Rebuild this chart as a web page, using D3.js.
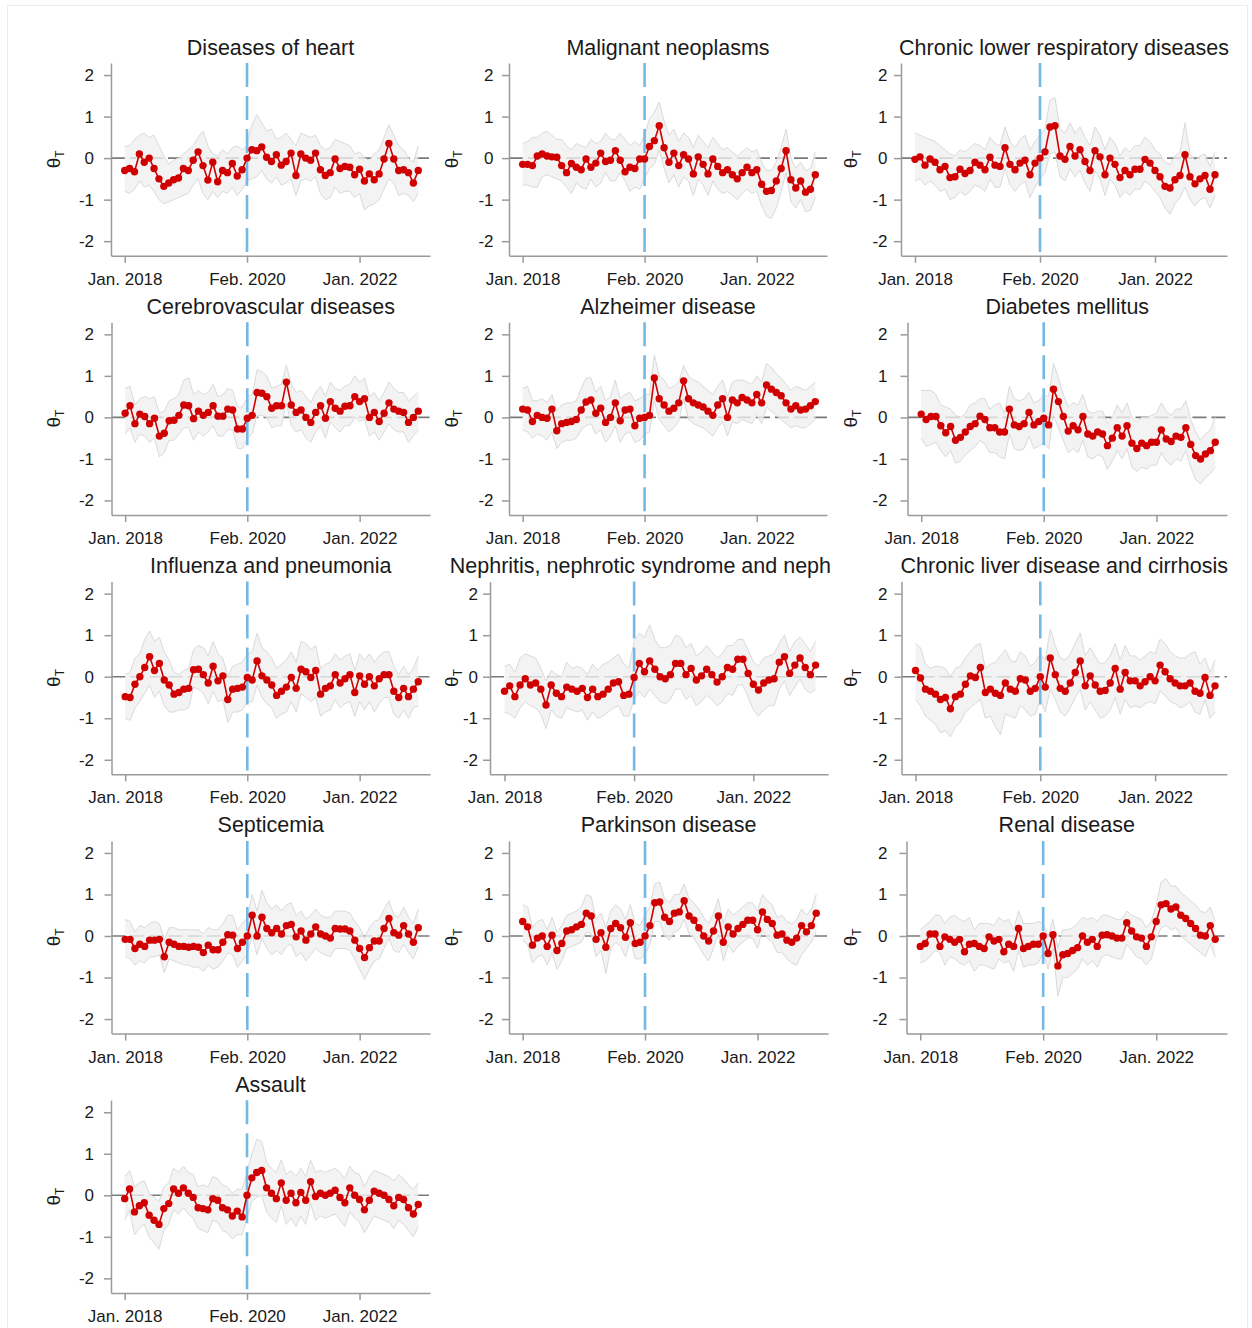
<!DOCTYPE html>
<html>
<head>
<meta charset="utf-8">
<script src="https://cdn.jsdelivr.net/npm/d3@7"></script>
<style>
  body { margin: 0; background: #fff; }
  svg  { display: block; font-family: "Liberation Sans", Arial, sans-serif; }
</style>
</head>
<body>
<div id="chart"></div>
<script>
/* ---- data: monthly theta_T estimates, Jan 2018 .. Jan 2023 (61 months) ---- */
const xTickMonths = [0, 25, 48];
const xTickLabels = ["Jan. 2018", "Feb. 2020", "Jan. 2022"];
const yTicks      = [-2, -1, 0, 1, 2];
const breakMonth  = 25;   // Feb. 2020

const titles = [
  "Diseases of heart", "Malignant neoplasms", "Chronic lower respiratory diseases",
  "Cerebrovascular diseases", "Alzheimer disease", "Diabetes mellitus",
  "Influenza and pneumonia", "Nephritis, nephrotic syndrome and neph", "Chronic liver disease and cirrhosis",
  "Septicemia", "Parkinson disease", "Renal disease",
  "Assault"
];

const heartPt = [-0.30,-0.25,-0.33,0.10,-0.10,0.00,-0.25,-0.50,-0.68,-0.60,
  -0.52,-0.48,-0.25,-0.30,-0.05,0.15,-0.18,-0.53,-0.10,-0.57,
  -0.30,-0.35,-0.13,-0.43,-0.28,0.00,0.20,0.18,0.27,0.02,
  -0.08,0.08,-0.17,-0.08,0.12,-0.42,0.10,0.00,-0.05,0.12,
  -0.28,-0.42,-0.35,-0.02,-0.25,-0.20,-0.22,-0.40,-0.27,-0.55,
  -0.38,-0.52,-0.38,-0.02,0.35,-0.02,-0.30,-0.28,-0.35,-0.60,-0.30];
const heartHi = [0.28,0.30,0.45,0.55,0.60,0.50,0.55,0.30,0.05,-0.15,
  -0.05,0.00,0.10,0.20,0.30,0.50,0.65,0.30,0.10,0.05,
  0.20,0.10,0.25,0.30,0.20,0.30,0.80,1.05,0.85,0.65,
  0.70,0.45,0.50,0.60,0.45,0.30,0.60,0.55,0.50,0.55,
  0.30,0.20,0.25,0.45,0.40,0.35,0.30,0.10,0.15,0.00,
  -0.05,0.10,0.20,0.50,0.80,0.55,0.30,0.20,0.00,-0.10,0.30];
const heartLo = [-0.80,-0.85,-0.75,-0.55,-0.70,-0.65,-0.80,-1.00,-1.10,-1.05,
  -1.00,-0.95,-0.90,-0.85,-0.65,-0.50,-0.85,-1.00,-0.80,-0.95,
  -0.80,-0.85,-0.70,-0.90,-0.75,-0.55,-0.50,-0.45,-0.30,-0.50,
  -0.60,-0.45,-0.65,-0.60,-0.50,-0.90,-0.55,-0.50,-0.55,-0.45,
  -0.85,-1.00,-0.95,-0.70,-0.85,-0.80,-0.80,-0.95,-0.85,-1.25,
  -1.15,-1.10,-1.00,-0.75,-0.50,-0.60,-0.90,-0.85,-0.90,-1.05,-0.85];

const malignantPt = [-0.15,-0.15,-0.18,0.05,0.10,0.05,0.03,0.02,-0.18,-0.35,
  -0.13,-0.22,-0.28,-0.02,-0.22,-0.12,0.12,-0.08,-0.05,0.18,
  -0.05,-0.33,-0.22,-0.25,-0.02,-0.02,0.28,0.42,0.78,0.25,
  -0.10,0.12,-0.18,0.08,-0.02,-0.38,0.03,-0.15,-0.38,-0.02,
  -0.20,-0.35,-0.28,-0.40,-0.50,-0.35,-0.22,-0.35,-0.28,-0.63,
  -0.80,-0.78,-0.55,-0.25,0.18,-0.52,-0.72,-0.55,-0.82,-0.75,-0.40];
const malignantHi = [0.35,0.40,0.50,0.50,0.60,0.65,0.55,0.45,0.45,0.30,
  0.20,0.35,0.30,0.25,0.45,0.35,0.40,0.60,0.45,0.45,
  0.60,0.45,0.30,0.40,0.30,0.55,0.95,1.10,1.35,0.90,
  0.55,0.70,0.40,0.60,0.50,0.25,0.55,0.40,0.25,0.50,
  0.35,0.20,0.25,0.15,0.05,0.15,0.25,0.15,0.20,-0.10,
  -0.30,-0.30,-0.10,0.25,0.70,0.00,-0.25,-0.10,-0.30,-0.25,0.15];
const malignantLo = [-0.65,-0.65,-0.70,-0.70,-0.45,-0.40,-0.45,-0.50,-0.55,-0.70,
  -0.85,-0.60,-0.70,-0.75,-0.50,-0.70,-0.60,-0.35,-0.55,-0.55,
  -0.35,-0.55,-0.80,-0.70,-0.75,-0.50,-0.25,-0.15,0.20,-0.25,
  -0.60,-0.40,-0.70,-0.45,-0.55,-0.90,-0.50,-0.65,-0.90,-0.55,
  -0.75,-0.85,-0.80,-0.90,-1.00,-0.85,-0.75,-0.85,-0.80,-1.15,
  -1.40,-1.45,-1.20,-0.80,-0.35,-1.05,-1.20,-1.00,-1.30,-1.25,-0.95];

const respPt = [-0.03,0.03,-0.17,-0.02,-0.10,-0.28,-0.20,-0.47,-0.45,-0.27,
  -0.37,-0.30,-0.10,-0.17,-0.28,0.02,-0.17,-0.20,0.25,-0.15,
  -0.28,-0.12,-0.05,-0.40,-0.12,0.00,0.15,0.75,0.78,0.05,
  -0.03,0.28,0.05,0.20,-0.08,-0.30,0.18,0.03,-0.40,0.00,
  -0.15,-0.47,-0.30,-0.40,-0.27,-0.27,-0.03,-0.12,-0.30,-0.45,
  -0.68,-0.72,-0.52,-0.42,0.08,-0.45,-0.62,-0.50,-0.42,-0.75,-0.40];
const respHi = [0.60,0.55,0.50,0.45,0.40,0.30,0.20,0.10,0.05,0.20,
  0.15,0.25,0.35,0.30,0.20,0.50,0.35,0.30,0.75,0.40,
  0.25,0.45,0.55,0.20,0.40,0.55,0.70,1.40,1.45,0.70,
  0.60,0.85,0.60,0.75,0.50,0.30,0.75,0.55,0.20,0.50,
  0.35,0.05,0.25,0.15,0.30,0.30,0.50,0.40,0.20,0.10,
  -0.10,-0.15,0.05,0.15,0.85,0.10,-0.05,0.05,0.10,-0.20,0.15];
const respLo = [-0.55,-0.50,-0.65,-0.55,-0.65,-0.80,-0.75,-1.00,-0.95,-0.80,
  -0.90,-0.80,-0.65,-0.70,-0.80,-0.50,-0.70,-0.70,-0.25,-0.65,
  -0.80,-0.65,-0.55,-0.95,-0.70,-0.50,-0.35,0.10,0.15,-0.45,
  -0.55,-0.25,-0.45,-0.30,-0.60,-0.80,-0.30,-0.50,-0.90,-0.50,
  -0.65,-0.95,-0.80,-0.90,-0.75,-0.75,-0.55,-0.65,-0.80,-0.95,
  -1.20,-1.35,-1.10,-0.95,-0.70,-1.00,-1.15,-1.00,-0.95,-1.20,-0.90];

const cerebroPt = [0.10,0.28,-0.15,0.08,0.02,-0.15,-0.02,-0.45,-0.38,-0.08,
  -0.07,0.05,0.30,0.28,-0.03,0.15,0.05,0.12,0.28,0.03,
  0.03,0.20,0.18,-0.28,-0.28,-0.02,0.05,0.60,0.58,0.50,
  0.22,0.28,0.28,0.85,0.30,0.12,0.18,0.00,-0.12,0.12,
  0.28,-0.02,0.38,0.22,0.15,0.27,0.28,0.50,0.38,0.45,
  0.00,0.12,-0.10,0.10,0.35,0.20,0.15,0.12,-0.12,0.00,0.15];
const cerebroHi = [0.70,0.75,0.30,0.45,0.50,0.45,0.50,0.10,0.15,0.40,
  0.45,0.55,0.90,0.95,0.55,0.65,0.55,0.60,0.80,0.50,
  0.55,0.70,0.65,0.25,0.25,0.50,0.55,1.15,1.10,1.00,
  0.70,0.75,0.80,1.25,0.80,0.60,0.65,0.50,0.35,0.60,
  0.75,0.50,0.85,0.70,0.65,0.75,0.80,1.00,0.85,0.95,
  0.50,0.60,0.40,0.60,0.85,0.70,0.60,0.60,0.40,0.50,0.60];
const cerebroLo = [-0.40,-0.25,-0.60,-0.40,-0.45,-0.60,-0.50,-0.95,-0.85,-0.55,
  -0.55,-0.40,-0.25,-0.25,-0.55,-0.35,-0.45,-0.35,-0.20,-0.45,
  -0.45,-0.30,-0.30,-0.75,-0.75,-0.50,-0.40,0.05,0.05,0.00,
  -0.25,-0.20,-0.20,0.35,-0.20,-0.35,-0.30,-0.50,-0.60,-0.35,
  -0.20,-0.50,-0.10,-0.25,-0.35,-0.20,-0.20,0.00,-0.10,-0.05,
  -0.45,-0.35,-0.55,-0.35,-0.15,-0.30,-0.35,-0.35,-0.60,-0.45,-0.30];

const alzPt = [0.20,0.18,-0.10,0.05,0.00,-0.02,0.20,-0.32,-0.15,-0.12,
  -0.10,-0.05,0.18,0.37,0.42,0.10,0.22,-0.12,0.00,0.35,
  -0.08,0.18,0.20,-0.20,-0.02,0.00,0.05,0.95,0.45,0.30,
  0.15,0.22,0.35,0.88,0.45,0.35,0.30,0.25,0.15,0.05,
  0.30,0.45,0.00,0.42,0.35,0.48,0.42,0.35,0.55,0.35,
  0.78,0.68,0.60,0.52,0.35,0.20,0.28,0.18,0.20,0.28,0.38];
const alzHi = [0.70,0.75,0.40,0.40,0.45,0.35,0.55,0.15,0.30,0.35,
  0.35,0.40,0.70,0.95,0.95,0.60,0.75,0.40,0.50,0.90,
  0.45,0.55,0.60,0.40,0.45,0.55,0.55,1.50,1.00,0.90,
  0.70,0.75,0.85,1.25,1.00,0.90,0.85,0.75,0.65,0.55,
  0.75,0.90,0.50,0.85,0.90,0.90,0.85,0.80,1.00,0.85,
  1.30,1.20,1.05,0.95,0.80,0.65,0.75,0.70,0.65,0.75,0.85];
const alzLo = [-0.30,-0.35,-0.50,-0.40,-0.45,-0.55,-0.35,-0.75,-0.60,-0.55,
  -0.55,-0.50,-0.30,-0.20,-0.15,-0.40,-0.30,-0.60,-0.45,-0.20,
  -0.60,-0.40,-0.35,-0.60,-0.55,-0.40,-0.35,0.40,-0.05,-0.20,
  -0.35,-0.25,-0.10,0.45,-0.05,-0.15,-0.20,-0.25,-0.35,-0.45,
  -0.25,-0.10,-0.45,-0.10,-0.15,-0.05,-0.10,-0.15,0.05,-0.15,
  0.25,0.15,0.05,-0.05,-0.15,-0.25,-0.20,-0.25,-0.25,-0.15,-0.05];

const diabetesPt = [0.08,-0.05,0.02,0.02,-0.20,-0.37,-0.22,-0.55,-0.48,-0.35,
  -0.22,-0.15,0.03,-0.05,-0.25,-0.25,-0.35,-0.35,0.20,-0.18,
  -0.22,-0.15,0.12,-0.18,-0.10,-0.02,-0.18,0.68,0.38,0.02,
  -0.33,-0.20,-0.30,0.02,-0.40,-0.45,-0.35,-0.40,-0.68,-0.50,
  -0.25,-0.45,-0.20,-0.62,-0.75,-0.62,-0.68,-0.60,-0.60,-0.30,
  -0.52,-0.58,-0.45,-0.48,-0.25,-0.65,-0.92,-1.00,-0.88,-0.80,-0.60];
const diabetesHi = [0.65,0.65,0.65,0.55,0.30,0.25,0.20,0.05,0.00,0.10,
  0.30,0.35,0.45,0.45,0.20,0.30,0.35,0.10,0.75,0.45,
  0.40,0.45,0.60,0.35,0.40,0.55,0.50,1.30,0.95,0.55,
  0.25,0.35,0.30,0.55,0.15,0.10,0.15,0.15,-0.15,0.00,
  0.30,0.10,0.35,0.00,-0.10,0.00,0.00,0.05,0.10,0.35,
  0.15,0.05,0.20,0.20,0.40,-0.05,-0.35,-0.55,-0.40,-0.30,0.00];
const diabetesLo = [-0.50,-0.70,-0.65,-0.60,-0.80,-0.95,-0.80,-1.10,-1.05,-0.90,
  -0.80,-0.70,-0.55,-0.65,-0.85,-0.85,-0.95,-1.00,-0.40,-0.75,
  -0.80,-0.75,-0.45,-0.75,-0.70,-0.60,-0.75,0.05,-0.25,-0.55,
  -0.85,-0.75,-0.85,-0.55,-0.95,-1.00,-0.90,-0.95,-1.25,-1.05,
  -0.80,-1.00,-0.75,-1.20,-1.30,-1.20,-1.25,-1.15,-1.15,-0.85,
  -1.05,-1.15,-1.00,-1.05,-0.80,-1.20,-1.50,-1.60,-1.45,-1.35,-1.20];

const fluPt = [-0.48,-0.50,-0.18,0.00,0.22,0.48,0.15,0.32,-0.08,-0.20,
  -0.42,-0.38,-0.30,-0.28,0.17,0.18,0.05,-0.15,0.25,-0.10,
  0.02,-0.55,-0.30,-0.28,-0.25,-0.02,-0.08,0.38,0.02,-0.08,
  -0.20,-0.45,-0.35,-0.25,-0.02,-0.28,0.18,0.12,-0.02,0.15,
  -0.42,-0.28,-0.22,0.05,-0.15,-0.05,0.05,-0.38,0.02,-0.18,
  0.00,-0.22,-0.05,0.05,0.05,-0.35,-0.50,-0.28,-0.48,-0.30,-0.12];
const fluHi = [0.05,0.10,0.45,0.55,0.90,1.10,0.85,0.95,0.60,0.40,
  0.10,0.05,0.15,0.20,0.65,0.75,0.70,0.50,0.85,0.55,
  0.45,0.00,0.25,0.30,0.35,0.55,0.60,1.05,0.70,0.60,
  0.45,0.20,0.30,0.40,0.60,0.35,0.85,0.80,0.65,0.75,
  0.20,0.30,0.35,0.55,0.40,0.50,0.55,0.15,0.55,0.40,
  0.55,0.35,0.50,0.60,0.60,0.25,0.05,0.25,0.05,0.20,0.50];
const fluLo = [-1.00,-1.05,-0.75,-0.60,-0.40,-0.20,-0.50,-0.35,-0.70,-0.85,
  -0.85,-0.80,-0.80,-0.75,-0.25,-0.30,-0.40,-0.65,-0.35,-0.60,
  -0.55,-1.10,-0.85,-0.85,-0.80,-0.60,-0.60,-0.20,-0.50,-0.65,
  -0.75,-1.00,-0.90,-0.85,-0.60,-0.85,-0.40,-0.50,-0.60,-0.50,
  -0.95,-0.85,-0.80,-0.55,-0.75,-0.65,-0.60,-0.95,-0.60,-0.80,
  -0.60,-0.85,-0.65,-0.50,-0.50,-0.90,-1.00,-0.80,-1.00,-0.75,-0.70];

const nephPt = [-0.35,-0.22,-0.48,-0.20,-0.05,-0.20,-0.15,-0.30,-0.68,-0.20,
  -0.40,-0.48,-0.25,-0.30,-0.35,-0.28,-0.50,-0.30,-0.48,-0.42,
  -0.30,-0.15,-0.12,-0.45,-0.42,-0.02,0.32,0.12,0.38,0.18,
  0.00,-0.05,0.05,0.32,0.32,0.05,0.20,-0.08,0.02,0.18,
  0.05,-0.13,0.00,0.22,0.18,0.42,0.42,0.08,-0.18,-0.32,
  -0.15,-0.08,-0.05,0.35,0.48,0.08,0.28,0.45,0.22,0.05,0.28];
const nephHi = [0.25,0.30,0.10,0.45,0.55,0.50,0.45,0.20,-0.10,0.15,
  0.05,0.00,0.35,0.20,0.25,0.20,0.05,0.30,0.15,0.30,
  0.35,0.45,0.55,0.30,0.20,0.85,1.05,0.95,1.25,0.90,
  0.70,0.70,0.75,1.00,0.95,0.70,0.80,0.50,0.60,0.75,
  0.60,0.45,0.55,0.75,0.75,0.90,0.90,0.65,0.35,0.25,
  0.45,0.50,0.55,0.80,1.00,0.60,0.85,0.95,0.80,0.60,0.85];
const nephLo = [-0.85,-0.90,-1.00,-0.75,-0.60,-0.70,-0.75,-0.90,-1.25,-0.80,
  -0.95,-1.00,-0.75,-0.80,-0.85,-0.80,-1.05,-0.85,-1.00,-0.95,
  -0.85,-0.75,-0.70,-0.95,-0.95,-0.55,-0.35,-0.50,-0.30,-0.45,
  -0.60,-0.65,-0.55,-0.30,-0.30,-0.55,-0.45,-0.70,-0.60,-0.45,
  -0.55,-0.70,-0.60,-0.40,-0.45,-0.20,-0.20,-0.50,-0.80,-0.95,
  -0.80,-0.70,-0.70,-0.30,-0.10,-0.45,-0.25,-0.05,-0.30,-0.40,-0.30];

const liverPt = [0.15,-0.03,-0.30,-0.35,-0.42,-0.55,-0.50,-0.77,-0.48,-0.42,
  -0.18,0.02,-0.02,0.22,-0.38,-0.30,-0.40,-0.45,-0.15,-0.30,
  -0.35,-0.05,-0.08,-0.35,-0.28,0.00,-0.25,0.45,0.05,-0.28,
  -0.35,-0.15,0.10,0.38,-0.22,0.02,-0.20,-0.35,-0.33,-0.15,
  0.20,-0.30,0.10,-0.10,-0.10,-0.22,-0.12,0.00,-0.10,0.28,
  0.12,-0.05,-0.15,-0.22,-0.22,-0.15,-0.35,-0.40,-0.02,-0.45,-0.22];
const liverHi = [0.80,0.70,0.30,0.20,0.25,0.25,0.20,0.00,0.20,0.25,
  0.45,0.60,0.75,0.80,0.20,0.30,0.35,0.50,0.65,0.40,
  0.35,0.60,0.50,0.25,0.35,0.55,0.40,1.15,0.75,0.45,
  0.40,0.55,0.80,1.05,0.50,0.70,0.50,0.30,0.35,0.50,
  0.80,0.40,0.75,0.50,0.50,0.40,0.50,0.60,0.55,0.90,
  0.80,0.60,0.50,0.45,0.45,0.55,0.60,0.30,0.45,0.10,0.40];
const liverLo = [-0.55,-0.70,-0.95,-1.05,-1.15,-1.35,-1.30,-1.45,-1.20,-1.10,
  -0.85,-0.75,-0.65,-0.55,-1.00,-0.95,-1.20,-1.40,-0.90,-0.95,
  -1.00,-0.70,-0.80,-0.95,-0.90,-0.55,-0.85,-0.30,-0.55,-0.85,
  -0.95,-0.75,-0.50,-0.30,-0.80,-0.60,-0.80,-1.00,-0.95,-0.80,
  -0.50,-0.90,-0.55,-0.75,-0.70,-0.75,-0.65,-0.60,-0.65,-0.35,
  -0.45,-0.60,-0.65,-0.75,-0.70,-0.60,-0.85,-0.90,-0.55,-1.00,-0.85];

const septPt = [-0.08,-0.08,-0.30,-0.20,-0.25,-0.10,-0.10,-0.08,-0.50,-0.15,
  -0.20,-0.25,-0.25,-0.27,-0.25,-0.27,-0.40,-0.22,-0.33,-0.33,
  -0.15,0.03,0.02,-0.30,-0.15,0.00,0.50,0.00,0.45,0.18,
  0.08,0.18,0.05,0.25,0.28,-0.02,0.12,-0.10,0.05,0.22,
  0.05,0.00,-0.05,0.18,0.17,0.17,0.12,-0.10,-0.30,-0.52,
  -0.28,-0.12,-0.12,0.18,0.42,0.08,0.02,0.25,0.05,-0.15,0.20];
const septHi = [0.40,0.35,0.10,0.25,0.20,0.30,0.35,0.30,-0.10,0.20,
  0.20,0.15,0.15,0.15,0.15,0.15,0.05,0.20,0.15,0.15,
  0.30,0.50,0.50,0.15,0.30,0.45,1.00,0.60,1.10,0.80,
  0.65,0.75,0.60,0.75,0.80,0.50,0.60,0.40,0.50,0.65,
  0.50,0.45,0.45,0.60,0.60,0.60,0.55,0.35,0.20,-0.05,
  0.20,0.35,0.40,0.65,0.85,0.50,0.45,0.70,0.45,0.30,0.65];
const septLo = [-0.50,-0.55,-0.70,-0.60,-0.65,-0.50,-0.50,-0.45,-0.88,-0.55,
  -0.60,-0.65,-0.70,-0.70,-0.75,-0.75,-0.85,-0.70,-0.80,-0.75,
  -0.60,-0.40,-0.45,-0.75,-0.60,-0.45,0.00,-0.45,-0.05,-0.30,
  -0.45,-0.35,-0.45,-0.25,-0.20,-0.50,-0.40,-0.60,-0.45,-0.30,
  -0.40,-0.45,-0.50,-0.30,-0.30,-0.30,-0.35,-0.55,-0.80,-1.05,
  -0.80,-0.60,-0.55,-0.30,-0.05,-0.35,-0.40,-0.20,-0.40,-0.55,-0.25];

const parkPt = [0.35,0.22,-0.22,-0.05,0.00,-0.25,0.02,-0.35,-0.18,0.12,
  0.15,0.22,0.28,0.55,0.48,-0.08,0.08,-0.27,0.18,0.30,
  0.20,-0.03,0.32,-0.18,-0.15,0.00,0.25,0.80,0.82,0.45,
  0.35,0.55,0.58,0.85,0.48,0.38,0.20,0.00,-0.12,0.12,
  0.48,-0.15,0.22,0.05,0.18,0.28,0.38,0.38,0.15,0.58,
  0.40,0.30,0.02,0.05,-0.10,-0.15,-0.05,0.25,0.10,0.25,0.55];
const parkHi = [0.75,0.70,0.20,0.35,0.40,0.15,0.45,0.10,0.25,0.50,
  0.55,0.60,0.70,1.00,0.95,0.40,0.55,0.20,0.60,0.75,
  0.65,0.40,0.75,0.30,0.25,0.50,0.70,1.25,1.30,0.90,
  0.80,1.00,1.00,1.25,0.90,0.80,0.65,0.45,0.30,0.55,
  0.90,0.30,0.65,0.50,0.60,0.70,0.80,0.80,0.60,1.00,
  0.85,0.75,0.45,0.50,0.35,0.30,0.40,0.65,0.50,0.65,1.00];
const parkLo = [-0.10,-0.20,-0.65,-0.50,-0.45,-0.70,-0.40,-0.80,-0.60,-0.30,
  -0.25,-0.20,-0.15,0.10,0.05,-0.50,-0.35,-0.90,-0.30,-0.15,
  -0.25,-0.50,-0.10,-0.55,-0.55,-0.45,-0.20,0.35,0.35,0.00,
  -0.10,0.10,0.15,0.40,0.05,-0.05,-0.25,-0.45,-0.60,-0.30,
  0.05,-0.60,-0.20,-0.40,-0.25,-0.15,-0.05,-0.05,-0.30,0.15,
  -0.05,-0.15,-0.40,-0.40,-0.55,-0.65,-0.70,-0.45,-0.30,-0.15,0.10];

const renalPt = [-0.25,-0.18,0.05,0.05,-0.25,-0.02,-0.08,-0.15,-0.08,-0.38,
  -0.20,-0.18,-0.25,-0.30,-0.02,-0.12,-0.08,-0.38,-0.20,-0.25,
  0.18,-0.30,-0.25,-0.20,-0.20,0.00,-0.42,0.03,-0.72,-0.45,
  -0.42,-0.35,-0.28,0.00,-0.15,-0.08,-0.25,0.02,0.03,0.00,
  -0.05,-0.05,0.32,0.12,-0.02,-0.05,-0.25,-0.02,0.35,0.75,
  0.78,0.65,0.70,0.50,0.42,0.30,0.18,0.02,0.00,0.25,-0.08];
const renalHi = [0.15,0.25,0.35,0.50,0.50,0.30,0.45,0.50,0.40,0.35,
  0.45,0.15,0.30,0.30,0.30,0.25,0.45,0.35,0.40,0.15,
  0.60,0.30,0.30,0.30,0.35,0.30,0.00,0.40,-0.30,0.15,
  0.15,0.20,0.30,0.45,0.40,0.45,0.35,0.50,0.50,0.45,
  0.40,0.40,0.60,0.50,0.45,0.40,0.20,0.35,0.75,1.30,
  1.38,1.20,1.20,1.05,0.95,0.85,0.75,0.60,0.55,0.70,0.35];
const renalLo = [-0.65,-0.60,-0.50,-0.35,-0.40,-0.70,-0.50,-0.55,-0.65,-0.70,
  -0.60,-0.85,-0.70,-0.70,-0.75,-0.80,-0.55,-0.65,-0.60,-0.85,
  -0.35,-0.75,-0.70,-0.70,-0.65,-0.40,-0.80,-0.30,-1.45,-1.00,
  -1.00,-0.90,-0.80,-0.55,-0.70,-0.60,-0.75,-0.50,-0.45,-0.50,
  -0.55,-0.55,-0.20,-0.35,-0.50,-0.55,-0.70,-0.55,-0.10,0.20,
  0.25,0.15,0.20,0.00,-0.10,-0.20,-0.30,-0.40,-0.50,-0.20,-0.50];

const assaultPt = [-0.08,0.15,-0.40,-0.25,-0.18,-0.48,-0.60,-0.70,-0.32,-0.20,
  0.15,0.05,0.18,0.05,-0.05,-0.30,-0.32,-0.35,-0.08,-0.12,
  -0.30,-0.35,-0.50,-0.38,-0.52,0.00,0.42,0.55,0.60,0.18,
  0.05,-0.08,0.30,-0.12,0.05,-0.18,0.07,-0.12,0.33,-0.03,
  0.05,0.00,0.05,0.12,-0.05,-0.18,0.18,0.00,-0.10,-0.35,
  -0.12,0.10,0.05,0.00,-0.10,-0.25,-0.05,-0.10,-0.30,-0.45,-0.22];
const assaultHi = [0.45,0.60,0.20,0.30,0.35,0.05,-0.05,-0.15,0.20,0.30,
  0.65,0.55,0.70,0.55,0.50,0.20,0.25,0.20,0.45,0.40,
  0.25,0.20,0.05,0.15,0.15,0.55,1.00,1.35,1.30,0.80,
  0.65,0.55,0.85,0.50,0.60,0.45,0.65,0.45,0.85,0.55,
  0.60,0.55,0.60,0.65,0.55,0.40,0.70,0.55,0.50,0.20,
  0.45,0.60,0.55,0.50,0.45,0.35,0.50,0.40,0.25,0.15,0.30];
const assaultLo = [-0.60,-0.35,-0.95,-0.80,-0.70,-1.00,-1.15,-1.30,-0.85,-0.70,
  -0.35,-0.45,-0.30,-0.45,-0.55,-0.80,-0.85,-0.90,-0.60,-0.65,
  -0.85,-0.90,-1.05,-0.95,-0.95,-0.55,-0.15,-0.05,0.00,-0.40,
  -0.55,-0.65,-0.25,-0.70,-0.55,-0.75,-0.50,-0.70,-0.20,-0.60,
  -0.50,-0.55,-0.50,-0.45,-0.60,-0.75,-0.40,-0.55,-0.65,-0.90,
  -0.70,-0.50,-0.55,-0.60,-0.65,-0.80,-0.60,-0.70,-0.85,-1.00,-0.75];

const panels = [
  { pt: heartPt,     hi: heartHi,     lo: heartLo },
  { pt: malignantPt, hi: malignantHi, lo: malignantLo },
  { pt: respPt,      hi: respHi,      lo: respLo },
  { pt: cerebroPt,   hi: cerebroHi,   lo: cerebroLo },
  { pt: alzPt,       hi: alzHi,       lo: alzLo },
  { pt: diabetesPt,  hi: diabetesHi,  lo: diabetesLo },
  { pt: fluPt,       hi: fluHi,       lo: fluLo },
  { pt: nephPt,      hi: nephHi,      lo: nephLo },
  { pt: liverPt,     hi: liverHi,     lo: liverLo },
  { pt: septPt,      hi: septHi,      lo: septLo },
  { pt: parkPt,      hi: parkHi,      lo: parkLo },
  { pt: renalPt,     hi: renalHi,     lo: renalLo },
  { pt: assaultPt,   hi: assaultHi,   lo: assaultLo }
].map((d, i) => ({ ...d, title: titles[i] }));

/* ---- layout (each combined sub-graph has its own plot box) ---- */
const width = 1252, height = 1328;
const rowPitch  = 259.3;
const plotTop0  = 63, plotBot0 = 255.7;
const thetaX    = [53, 451, 850];
const boxLeft   = [111, 509, 901, 111.5, 509, 907.5, 111.5, 490, 901.5, 111.5, 509, 906.5, 111];
const boxRight  = [430, 827, 1227, 430, 827, 1227, 430, 828, 1227, 430, 828, 1227, 430];
const labelEnd  = [94, 493.5, 887.5, 94, 493.5, 887.5, 94, 478, 887.5, 94, 493.5, 887.5, 94];

const RED  = "#d00000";
const BLUE = "#74b8e6";
const AXIS = "#9a9a9a";
const TEXT = "#1a1a1a";
const TICK = 7;

const svg = d3.select("#chart").append("svg")
  .attr("width", width)
  .attr("height", height);

svg.append("rect")
  .attr("x", 7.5).attr("y", 5.5)
  .attr("width", width - 12).attr("height", height - 4)
  .attr("fill", "#fff")
  .attr("stroke", "#ececec");

panels.forEach((p, i) => {
  const r = Math.floor(i / 3), c = i % 3;
  const top = plotTop0 + r * rowPitch, bottom = plotBot0 + r * rowPitch;
  const left = boxLeft[i], right = boxRight[i];

  const x = d3.scaleLinear([-2.8, 62.4], [left, right]);
  const y = d3.scaleLinear([-2.35, 2.29], [bottom, top]);

  const g = svg.append("g");

  // zero reference line (under the band)
  g.append("line")
    .attr("x1", left).attr("x2", right)
    .attr("y1", y(0)).attr("y2", y(0))
    .attr("stroke", "#7a7a7a")
    .attr("stroke-width", 1.6)
    .attr("stroke-dasharray", "14,5");

  // confidence band
  const band = d3.area()
    .x((d, k) => x(k))
    .y0((d, k) => y(p.lo[k]))
    .y1((d, k) => y(p.hi[k]));

  g.append("path")
    .datum(p.pt)
    .attr("d", band)
    .attr("fill", "#efefef")
    .attr("fill-opacity", 0.78);

  const edge = arr => d3.line().x((d, k) => x(k)).y(d => y(d))(arr);
  [p.hi, p.lo].forEach(arr => {
    g.append("path")
      .attr("d", edge(arr))
      .attr("fill", "none")
      .attr("stroke", "#dadada")
      .attr("stroke-width", 1);
  });

  // treatment start
  g.append("line")
    .attr("x1", x(breakMonth)).attr("x2", x(breakMonth))
    .attr("y1", top).attr("y2", bottom)
    .attr("stroke", BLUE)
    .attr("stroke-width", 2.6)
    .attr("stroke-dasharray", "24,9");

  // estimates
  g.append("path")
    .datum(p.pt)
    .attr("d", d3.line().x((d, k) => x(k)).y(d => y(d)))
    .attr("fill", "none")
    .attr("stroke", RED)
    .attr("stroke-width", 1.6);

  g.selectAll("circle")
    .data(p.pt)
    .join("circle")
      .attr("cx", (d, k) => x(k))
      .attr("cy", d => y(d))
      .attr("r", 3.7)
      .attr("fill", RED);

  // axes
  const yAxis = g.append("g")
    .attr("transform", `translate(${left},0)`)
    .call(d3.axisLeft(y)
      .tickValues(yTicks)
      .tickFormat(d => String(d))
      .tickSize(TICK)
      .tickSizeOuter(0)
      .tickPadding(left - TICK - labelEnd[i]));

  const xAxis = g.append("g")
    .attr("transform", `translate(0,${bottom})`)
    .call(d3.axisBottom(x)
      .tickValues(xTickMonths)
      .tickFormat((d, k) => xTickLabels[k])
      .tickSize(TICK)
      .tickSizeOuter(0)
      .tickPadding(10));

  [yAxis, xAxis].forEach(a => {
    a.select(".domain").attr("stroke", AXIS).attr("stroke-width", 1.5);
    a.selectAll(".tick line").attr("stroke", AXIS).attr("stroke-width", 1.5);
    a.selectAll(".tick text")
      .attr("fill", TEXT)
      .attr("font-family", "Liberation Sans, Arial, sans-serif")
      .attr("font-size", 17);
  });

  // y title: theta with subscript T
  const yt = g.append("text")
    .attr("transform", `translate(${thetaX[c]},${(top + bottom) / 2}) rotate(-90)`)
    .attr("text-anchor", "middle")
    .attr("dy", "0.35em")
    .attr("fill", TEXT)
    .attr("font-size", 19);
  yt.append("tspan").text("θ");
  yt.append("tspan")
    .attr("font-size", 12)
    .attr("dy", 4)
    .text("T");

  // panel title, kept inside the sub-graph box
  const tt = g.append("text")
    .attr("y", 47 + r * rowPitch)
    .attr("dy", "0.35em")
    .attr("text-anchor", "middle")
    .attr("fill", TEXT)
    .attr("font-size", 21.5)
    .text(p.title);
  const tw = tt.node().getComputedTextLength();
  let cx = (left + right) / 2;
  if (cx + tw / 2 > right + 3) cx = right + 3 - tw / 2;
  tt.attr("x", cx);
});
</script>
</body>
</html>
